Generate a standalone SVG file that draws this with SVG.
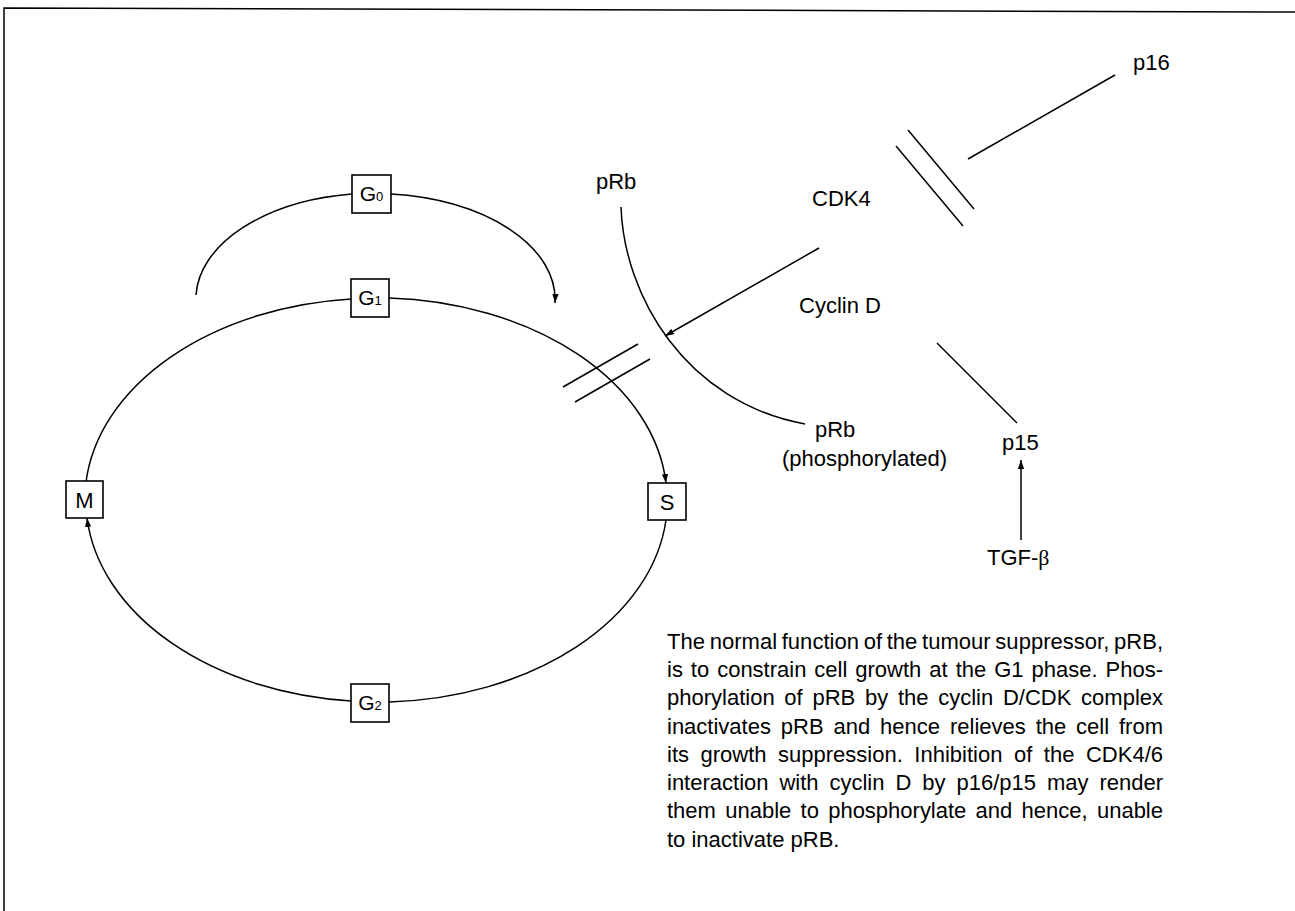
<svg xmlns="http://www.w3.org/2000/svg" width="1295" height="911" viewBox="0 0 1295 911">
<style>
.ln{fill:none;stroke:#000;stroke-width:1.5}
.box{fill:#fff;stroke:#000;stroke-width:1.6}
.lbl{font-family:"Liberation Sans",Arial,sans-serif;font-size:22px;fill:#000}
.bl{font-family:"Liberation Sans",Arial,sans-serif;font-size:21px;fill:#000;text-anchor:middle}
.big{font-size:22px}
.sub{font-size:13px}
.par{font-family:"Liberation Sans",Arial,sans-serif;font-size:22px;fill:#000}
</style>
<defs>
<marker id="ah" viewBox="0 0 10 7" refX="10" refY="3.5" markerWidth="9" markerHeight="6.3" markerUnits="userSpaceOnUse" orient="auto">
<path d="M0,0 L10,3.5 L0,7 z" fill="#000"/>
</marker>
</defs>
<rect width="1295" height="911" fill="#fff"/>
<g id="frame">
<path class="ln" d="M4,911 L4,8 L1295,12"/>
</g>
<g id="connectors">
<path class="ln" d="M389,298 A291,202 0 0 1 666,483" marker-end="url(#ah)"/>
<path class="ln" d="M666,520 A291,202 0 0 1 389,702"/>
<path class="ln" d="M351,701 A291,202 0 0 1 87,518" marker-end="url(#ah)"/>
<path class="ln" d="M86,482 A291,202 0 0 1 351,299"/>
<path class="ln" d="M196,295 A180,106 0 0 1 352,194"/>
<path class="ln" d="M391,194 A180,106 0 0 1 555,303" marker-end="url(#ah)"/>
<path class="ln" d="M621,207 C624,295 685,402 805,424"/>
<path class="ln" d="M819,248 L665,336" marker-end="url(#ah)"/>
<path class="ln" d="M563,387 L638,344"/>
<path class="ln" d="M575,402 L650,359"/>
<path class="ln" d="M1115,75 L968,159"/>
<path class="ln" d="M908,130 L974,209"/>
<path class="ln" d="M896,146 L963,226"/>
<path class="ln" d="M937,343 L1017,423"/>
<path class="ln" d="M1021,540 L1021,460" marker-end="url(#ah)"/>
</g>
<g id="node-G0">
<rect class="box" x="352" y="175" width="39" height="38"/>
<text class="bl" x="371.5" y="201">G<tspan class="sub">0</tspan></text>
</g>
<g id="node-G1">
<rect class="box" x="351" y="279" width="38" height="38"/>
<text class="bl" x="370" y="305">G<tspan class="sub">1</tspan></text>
</g>
<g id="node-G2">
<rect class="box" x="351" y="684" width="38" height="38"/>
<text class="bl" x="370" y="710">G<tspan class="sub">2</tspan></text>
</g>
<g id="node-M">
<rect class="box" x="66" y="481" width="37" height="37"/>
<text class="bl big" x="84.5" y="507.5">M</text>
</g>
<g id="node-S">
<rect class="box" x="648" y="483" width="38" height="37"/>
<text class="bl big" x="667" y="509.5">S</text>
</g>
<g id="node-pRb"><text class="lbl" x="596" y="189">pRb</text></g>
<g id="node-CDK4"><text class="lbl" x="812" y="206">CDK4</text></g>
<g id="node-cyclinD"><text class="lbl" x="799" y="313">Cyclin D</text></g>
<g id="node-p16"><text class="lbl" x="1133" y="70">p16</text></g>
<g id="node-pRbP">
<text class="lbl" x="815" y="437">pRb</text>
<text class="lbl" x="782" y="466">(phosphorylated)</text>
</g>
<g id="node-p15"><text class="lbl" x="1002" y="450">p15</text></g>
<g id="node-TGF"><text class="lbl" x="987" y="565">TGF-<tspan font-family="'Liberation Serif',serif">β</tspan></text></g>
<g id="caption">
<text class="par" x="667" y="648.5" word-spacing="-1.46" textLength="496" lengthAdjust="spacing">The normal function of the tumour suppressor, pRB,</text>
<text class="par" x="667" y="677" word-spacing="1.85" textLength="496" lengthAdjust="spacing">is to constrain cell growth at the G1 phase. Phos-</text>
<text class="par" x="667" y="705" word-spacing="3.61" textLength="496" lengthAdjust="spacing">phorylation of pRB by the cyclin D/CDK complex</text>
<text class="par" x="667" y="733.5" word-spacing="3.78" textLength="496" lengthAdjust="spacing">inactivates pRB and hence relieves the cell from</text>
<text class="par" x="667" y="762" word-spacing="5.43" textLength="496" lengthAdjust="spacing">its growth suppression. Inhibition of the CDK4/6</text>
<text class="par" x="667" y="790" word-spacing="4.83" textLength="496" lengthAdjust="spacing">interaction with cyclin D by p16/p15 may render</text>
<text class="par" x="667" y="818" word-spacing="3.17" textLength="496" lengthAdjust="spacing">them unable to phosphorylate and hence, unable</text>
<text class="par" x="667" y="846.5">to inactivate pRB.</text>
</g>
</svg>
